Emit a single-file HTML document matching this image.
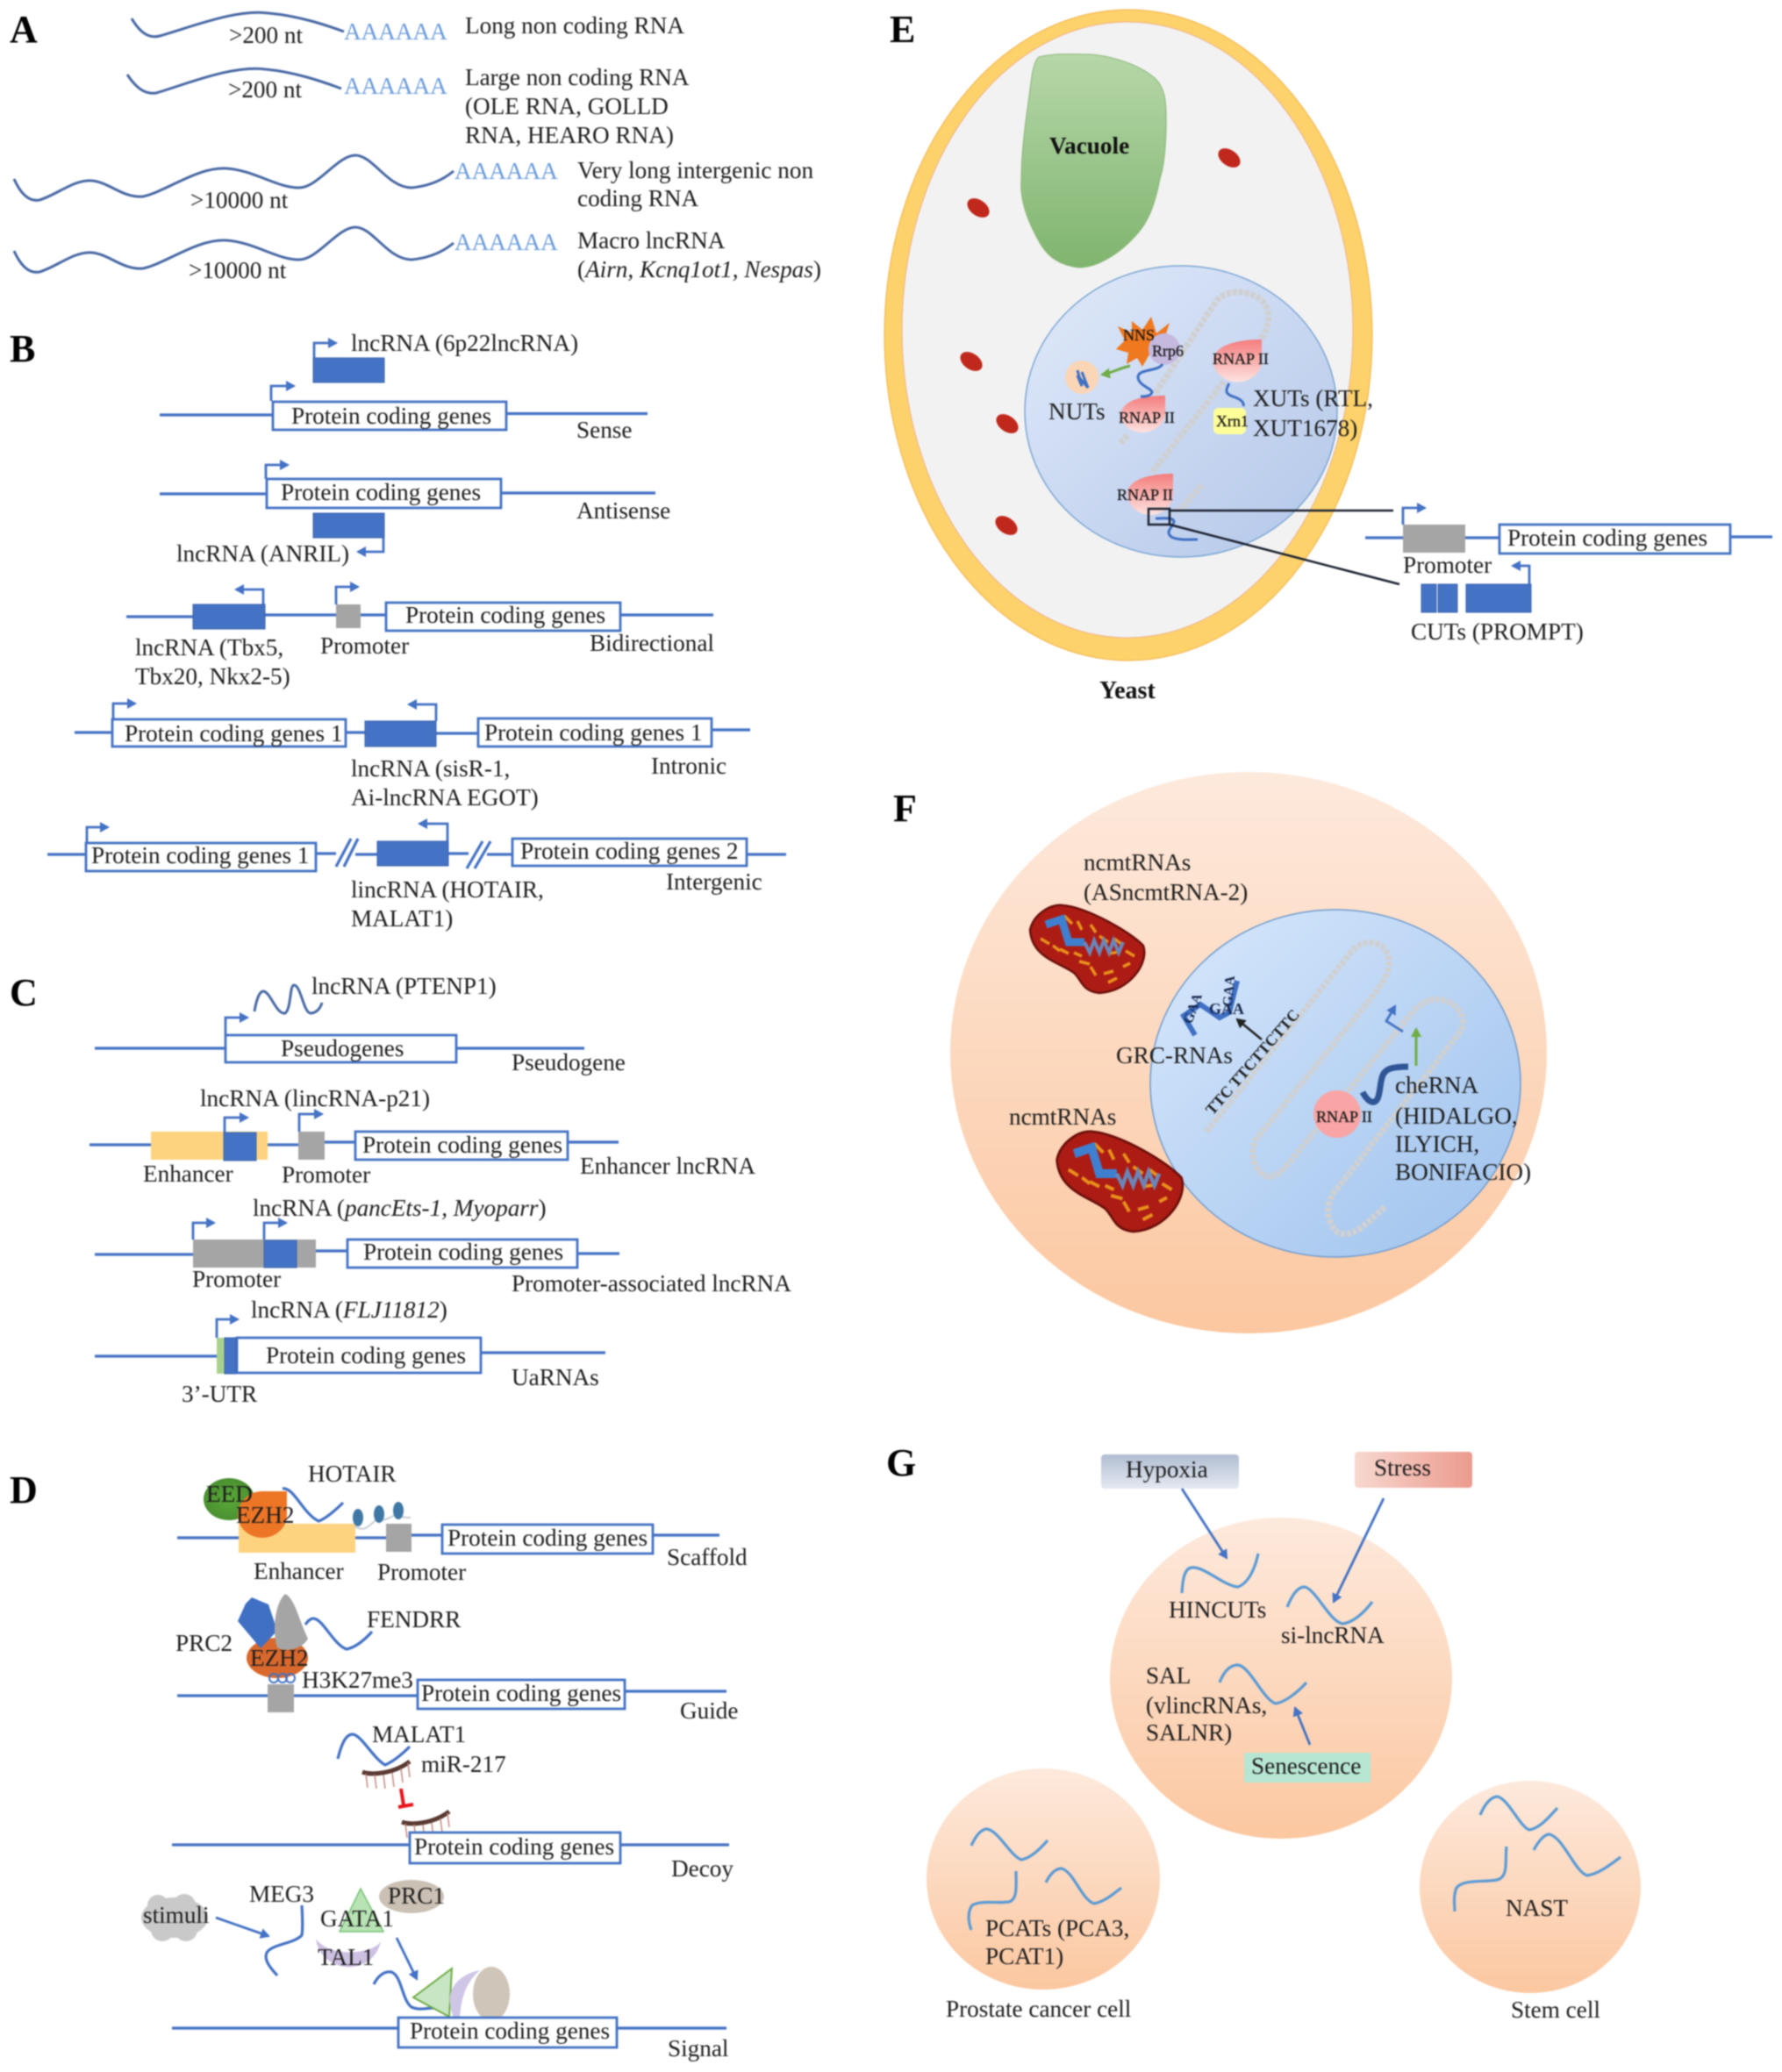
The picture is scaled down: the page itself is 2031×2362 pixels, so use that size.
<!DOCTYPE html>
<html><head><meta charset="utf-8"><title>lncRNA classification</title>
<style>
html,body{margin:0;padding:0;background:#fff}
svg{display:block;filter:blur(.7px)}
text{font-family:"Liberation Serif",serif;font-size:27.2px;fill:#1e1e1e}
.b{fill:none;stroke:#4472c4;stroke-width:3.2}
.w{fill:none;stroke:#4a6aa5;stroke-width:3}
.g{fill:none;stroke:#5b9bd5;stroke-width:3.2}
.a{fill:none;stroke:#4472c4;stroke-width:2.8;marker-end:url(#ah)}
.box{fill:#fff;stroke:#4472c4;stroke-width:2.8}
.blue{fill:#4472c4;stroke:#3a64ad;stroke-width:1}
.gray{fill:#a5a5a5}
.L{font-size:44px;font-weight:bold;fill:#000}
.pa{fill:#6a9bdc;font-size:27.2px}
.s{font-size:18px;fill:#1a1a1a;stroke:#1a1a1a;stroke-width:.3}
.dna{fill:none;stroke:#d0d0d0;stroke-width:7;stroke-dasharray:5 2}
</style></head>
<body>
<svg xmlns="http://www.w3.org/2000/svg" width="2031" height="2362" viewBox="0 0 2031 2362">
<defs>
<marker id="ah" markerUnits="userSpaceOnUse" markerWidth="14" markerHeight="14" refX="9" refY="6" orient="auto"><path d="M0 0L11 6L0 12z" fill="#4472c4"/></marker>
<marker id="ag" markerUnits="userSpaceOnUse" markerWidth="14" markerHeight="14" refX="9" refY="6" orient="auto"><path d="M0 0L11 6L0 12z" fill="#70ad47"/></marker>
<marker id="ak" markerUnits="userSpaceOnUse" markerWidth="14" markerHeight="14" refX="9" refY="6" orient="auto"><path d="M0 0L11 6L0 12z" fill="#222"/></marker>
<linearGradient id="cell" x1="0" y1="0" x2="0" y2="1"><stop offset="0" stop-color="#fde9dc"/><stop offset="1" stop-color="#fbc7a0"/></linearGradient>
<linearGradient id="nuc" x1="0" y1="0" x2="1" y2="1"><stop offset="0" stop-color="#dfe9fa"/><stop offset="1" stop-color="#aec3e8"/></linearGradient>
<linearGradient id="nuc2" x1="0" y1="0" x2="1" y2="1"><stop offset="0" stop-color="#d8e8fc"/><stop offset="1" stop-color="#9dc1ec"/></linearGradient>
<linearGradient id="vac" x1="0" y1="0" x2="0" y2="1"><stop offset="0" stop-color="#b6d7a8"/><stop offset="1" stop-color="#7fb46e"/></linearGradient>
<linearGradient id="pol" x1="0" y1="0" x2="0" y2="1"><stop offset="0" stop-color="#f47c7c"/><stop offset="1" stop-color="#fde3e0"/></linearGradient>
<linearGradient id="hyp" x1="0" y1="0" x2="0" y2="1"><stop offset="0" stop-color="#b0bdd2"/><stop offset="1" stop-color="#e4e9f1"/></linearGradient>
<linearGradient id="str" x1="0" y1="0" x2="1" y2="0"><stop offset="0" stop-color="#f7d8cf"/><stop offset="1" stop-color="#ec9a8e"/></linearGradient>
<radialGradient id="eed"><stop offset="0" stop-color="#5aa838"/><stop offset="1" stop-color="#4a9030"/></radialGradient>
<g id="mito">
<path d="M-64,-22 C-60,-40 -40,-52 -27,-50 C0,-48 50,-20 65,-4 C72,15 50,48 15,50 C-5,48 -5,35 -14,27 C-30,15 -62,10 -64,-22Z" fill="#ad1c14" stroke="#6d100c" stroke-width="2.500"/>
<g stroke="#e8901c" stroke-width="3.500" fill="none">
<path d="M-52,-12l10,6M-38,-4l8,6M-25,-38l9,9M-10,-32l5,10M5,-28l6,9M-30,0l10,5M-14,4l9,4M-8,14l12,3M5,20l6,10M20,28l11,-3M25,5l14,-2M45,2l10,6M15,-15l10,7M32,-12l8,6M25,38l10,-5M42,20l8,-4"/>
</g>
<path d="M-46,-28 L-28,-34 L-20,-8 L-2,-8" fill="none" stroke="#3f7fd0" stroke-width="9"/>
<path d="M-2,-8 l6,12 l5,-14 l6,14 l5,-14 l6,14 l5,-14 l6,14 l5,-12" fill="none" stroke="#6a86b8" stroke-width="4"/>
</g>
<g id="mir">
<path d="M0,0 C10,4 36,2 54,-12" fill="none" stroke="#5a3a32" stroke-width="5"/>
<path d="M4,2l2,16M14,3l2,16M24,3l2,16M34,1l2,16M44,-4l2,16M52,-10l2,16" stroke="#c58a80" stroke-width="1.500"/>
</g>
</defs>
<rect width="2031" height="2362" fill="#fff"/>

<!-- PANEL A -->
<text class="L" x="11" y="48">A</text>
<path class="w" d="M150 21C160 38 170 44 182 41C220 30 270 10 306 15C340 18 370 28 392 36"/>
<text x="261" y="49">&gt;200 nt</text><text class="pa" x="392" y="45">AAAAAA</text>
<text x="530" y="38">Long non coding RNA</text>
<path class="w" d="M145 85C155 100 165 108 178 106C215 95 265 74 303 79C335 82 365 92 389 101"/>
<text x="260" y="111">&gt;200 nt</text><text class="pa" x="392" y="107">AAAAAA</text>
<text x="530" y="97">Large non coding RNA</text><text x="530" y="130">(OLE RNA, GOLLD</text><text x="530" y="163">RNA, HEARO RNA)</text>
<path class="w" d="M16 204C24 222 34 230 45 228C65 222 85 204 105 206C125 208 140 226 163 224C190 218 225 190 258 192C290 194 315 214 341 214C362 214 385 177 405 177C425 177 442 214 469 214C490 212 505 205 517 195"/>
<text x="217" y="237">&gt;10000 nt</text><text class="pa" x="518" y="204">AAAAAA</text>
<text x="658" y="203">Very long intergenic non</text><text x="658" y="235">coding RNA</text>
<path class="w" transform="translate(0,82)" d="M16 204C24 222 34 230 45 228C65 222 85 204 105 206C125 208 140 226 163 224C190 218 225 190 258 192C290 194 315 214 341 214C362 214 385 177 405 177C425 177 442 214 469 214C490 212 505 205 517 195"/>
<text x="215" y="317">&gt;10000 nt</text><text class="pa" x="518" y="285">AAAAAA</text>
<text x="658" y="283">Macro lncRNA</text><text x="658" y="316">(<tspan font-style="italic">Airn, Kcnq1ot1, Nespas</tspan>)</text>

<!-- PANEL B -->
<text class="L" x="11" y="412">B</text>
<text x="400" y="400">lncRNA (6p22lncRNA)</text>
<path class="a" d="M358 408V391H383"/><rect class="blue" x="357" y="408" width="81" height="28"/>
<path class="a" d="M309 457V440H335"/>
<path class="b" d="M182 473H311M577 471.500H738"/><rect class="box" x="311" y="458" width="266" height="32"/>
<text x="332" y="483">Protein coding genes</text><text x="657" y="499">Sense</text>

<path class="a" d="M303 546V530H328"/>
<path class="b" d="M182 563H304M571 562H747"/><rect class="box" x="304" y="546" width="267" height="33"/>
<text x="320" y="570">Protein coding genes</text><text x="657" y="591">Antisense</text>
<rect class="blue" x="357" y="585" width="81" height="28"/><path class="a" d="M437 613V629H408"/>
<text x="201" y="640">lncRNA (ANRIL)</text>

<path class="a" d="M300 689V672H269"/>
<path class="b" d="M144 703H220M302 701H383M411 701H440M707 701H813"/>
<rect class="blue" x="220" y="689" width="82" height="28"/><rect class="gray" x="383" y="689" width="28" height="27"/>
<path class="a" d="M383 689V669H408"/>
<rect class="box" x="440" y="687" width="267" height="32"/>
<text x="462" y="710">Protein coding genes</text>
<text x="154" y="747">lncRNA (Tbx5,</text><text x="154" y="780">Tbx20, Nkx2-5)</text>
<text x="365" y="745">Promoter</text><text x="672" y="742">Bidirectional</text>

<path class="a" d="M129 819V802H154"/>
<path class="b" d="M85 835H128M394 835H416M497 836H545M811 832H855"/>
<rect class="box" x="128" y="820" width="266" height="31"/>
<rect class="blue" x="416" y="822" width="81" height="29"/>
<path class="a" d="M497 822V803H466"/>
<rect class="box" x="545" y="819" width="266" height="32"/>
<text x="142" y="845">Protein coding genes 1</text><text x="552" y="844">Protein coding genes 1</text>
<text x="400" y="885">lncRNA (sisR-1,</text><text x="400" y="918">Ai-lncRNA EGOT)</text><text x="742" y="882">Intronic</text>

<path class="a" d="M99 960V943H123"/>
<path class="b" d="M54 974H98M360 973H383M405 974H430M511 973H534M555 974H584M851 974H896"/>
<path class="b" d="M383 988L400 956M392 988L408 956M532 990L550 959M541 990L559 959"/>
<rect class="box" x="98" y="961" width="262" height="32"/>
<rect class="blue" x="430" y="959" width="81" height="28"/>
<path class="a" d="M510 959V939H478"/>
<rect class="box" x="584" y="956" width="267" height="31"/>
<text x="104" y="984">Protein coding genes 1</text><text x="593" y="979">Protein coding genes 2</text>
<text x="400" y="1023">lincRNA (HOTAIR,</text><text x="400" y="1056">MALAT1)</text><text x="759" y="1014">Intergenic</text>

<!-- PANEL C -->
<text class="L" x="11" y="1146">C</text>
<path class="w" d="M290 1153C293 1135 297 1130 300 1130C308 1130 315 1157 325 1155C332 1150 330 1123 335 1123C343 1123 346 1155 354 1155C360 1155 365 1150 367 1143"/>
<text x="355" y="1133">lncRNA (PTENP1)</text>
<path class="a" d="M257 1180V1160H282"/>
<path class="b" d="M108 1195H257M520 1195H666"/><rect class="box" x="257" y="1180" width="263" height="31"/>
<text x="320" y="1204">Pseudogenes</text><text x="583" y="1220">Pseudogene</text>

<text x="228" y="1261">lncRNA (lincRNA-p21)</text>
<path class="b" d="M102 1305H172M305 1305H340M370 1302H405M647 1302H705"/>
<rect x="172" y="1290" width="133" height="32" fill="#fdd37f"/>
<rect class="blue" x="255" y="1291" width="37" height="32"/>
<path class="a" d="M256 1291V1274H282"/>
<rect class="gray" x="340" y="1290" width="30" height="32"/>
<path class="a" d="M341 1290V1270H367"/>
<rect class="box" x="405" y="1290" width="242" height="32"/>
<text x="413" y="1314">Protein coding genes</text>
<text x="163" y="1347">Enhancer</text><text x="321" y="1348">Promoter</text><text x="661" y="1338">Enhancer lncRNA</text>

<text x="288" y="1386">lncRNA (<tspan font-style="italic">pancEts-1, Myoparr</tspan>)</text>
<path class="b" d="M108 1430H220M360 1426H396M658 1429H706"/>
<rect class="gray" x="220" y="1413" width="140" height="32"/>
<rect class="blue" x="301" y="1414" width="37" height="31"/>
<path class="a" d="M220 1413V1394H244"/><path class="a" d="M301 1413V1394H326"/>
<rect class="box" x="396" y="1413" width="262" height="32"/>
<text x="414" y="1436">Protein coding genes</text>
<text x="219" y="1467">Promoter</text><text x="583" y="1472">Promoter-associated lncRNA</text>

<text x="286" y="1502">lncRNA (<tspan font-style="italic">FLJ11812</tspan>)</text>
<path class="b" d="M108 1546H247M548 1542H690"/>
<path class="a" d="M247 1525V1504H271"/>
<rect class="box" x="270" y="1525" width="278" height="40"/>
<rect x="247" y="1525" width="9" height="41" fill="#a9d18e"/>
<rect class="blue" x="256" y="1525" width="13" height="41"/>
<text x="303" y="1554">Protein coding genes</text>
<text x="583" y="1579">UaRNAs</text><text x="207" y="1598">3’-UTR</text>

<!-- PANEL D -->
<text class="L" x="11" y="1713">D</text>
<text x="351" y="1689">HOTAIR</text>
<path class="b" d="M202 1753H272M405 1753H440M469 1750H504M744 1750H820"/>
<rect x="272" y="1737" width="133" height="33" fill="#fdd37f"/>
<ellipse cx="261" cy="1709" rx="29" ry="24" fill="url(#eed)"/>
<path d="M299 1700H327V1727A28 26 0 1 1 271 1727A28 27 0 0 1 299 1700Z" fill="#ed7526"/>
<text x="235" y="1712">EED</text><text x="269" y="1736">EZH2</text>
<path class="b" d="M322 1697C335 1695 345 1725 363 1734C370 1732 382 1722 391 1713"/>
<path d="M404 1740C415 1746 418 1742 428 1733C438 1734 445 1730 452 1726C458 1730 462 1730 468 1730" fill="none" stroke="#c9cdd2" stroke-width="2"/>
<ellipse cx="408" cy="1730" rx="6" ry="10" fill="#3f78a5"/><ellipse cx="432" cy="1726" rx="6" ry="10" fill="#3f78a5"/><ellipse cx="454" cy="1722" rx="6" ry="10" fill="#3f78a5"/>
<rect class="gray" x="440" y="1737" width="29" height="32"/>
<rect class="box" x="504" y="1738" width="240" height="33"/>
<text x="510" y="1762">Protein coding genes</text><text x="760" y="1784">Scaffold</text>
<text x="289" y="1800">Enhancer</text><text x="430" y="1801">Promoter</text>

<ellipse cx="316" cy="1890" rx="35" ry="23" fill="#d9682c"/>
<path d="M287 1821L306 1829L316 1859L297 1879L271 1848L280 1828Z" fill="#3f70c4"/>
<path d="M325 1817C336 1822 340 1845 351 1868C345 1880 325 1884 316 1878C310 1860 313 1828 325 1817Z" fill="#a5a5a5"/>
<text x="285" y="1899">EZH2</text>
<circle cx="312" cy="1913" r="5" fill="none" stroke="#4472c4" stroke-width="2"/><circle cx="322" cy="1913" r="5" fill="none" stroke="#4472c4" stroke-width="2"/><circle cx="331" cy="1913" r="5" fill="none" stroke="#4472c4" stroke-width="2"/>
<path class="b" d="M202 1933H476M712 1928H828"/>
<rect class="gray" x="305" y="1920" width="30" height="32"/>
<rect class="box" x="476" y="1915" width="236" height="33"/>
<text x="480" y="1939">Protein coding genes</text>
<text x="200" y="1882">PRC2</text><text x="418" y="1855">FENDRR</text>
<path class="b" d="M348 1852C352 1846 355 1845 357 1845C368 1845 380 1875 395 1880C405 1878 415 1870 424 1860"/>
<text x="344" y="1924">H3K27me3</text><text x="775" y="1959">Guide</text>

<text x="424" y="1986">MALAT1</text>
<path class="b" d="M385 2005C390 1985 395 1977 402 1977C412 1978 425 2004 439 2012C448 2008 458 2000 467 1991"/>
<text x="480" y="2020">miR-217</text>
<use href="#mir" x="413" y="2020"/>
<path d="M457 2039L460 2058M454 2060L471 2057" stroke="#e8141c" stroke-width="4" fill="none"/>
<use href="#mir" transform="translate(458,2077)"/>
<path class="b" d="M196 2103H467M707 2103H831"/>
<rect class="box" x="467" y="2089" width="240" height="35"/>
<text x="472" y="2114">Protein coding genes</text><text x="765" y="2139">Decoy</text>

<g fill="#c9c9c9"><ellipse cx="199" cy="2186" rx="38" ry="23"/><circle cx="180" cy="2172" r="12"/><circle cx="210" cy="2172" r="13"/><circle cx="185" cy="2200" r="13"/><circle cx="212" cy="2200" r="13"/></g>
<text x="163" y="2192">stimuli</text>
<path class="a" d="M246 2186L306 2207"/>
<text x="284" y="2168">MEG3</text>
<path class="b" d="M344 2172C345 2190 345 2200 344 2206C335 2216 310 2216 304 2226C300 2235 310 2245 316 2252"/>
<ellipse cx="469" cy="2162" rx="37" ry="19" fill="#cbc0b4"/>
<path d="M411 2153L387 2202H437Z" fill="#b8e3b4" stroke="#76c276" stroke-width="1.500"/>
<text x="365" y="2196">GATA1</text><text x="442" y="2170">PRC1</text>
<path d="M360 2210C365 2250 425 2255 434 2213C425 2228 375 2232 360 2210Z" fill="#cdc1e2"/>
<text x="362" y="2240">TAL1</text>
<path class="a" d="M452 2209L475 2256"/>
<path class="b" d="M426 2262C432 2250 440 2247 446 2248C458 2252 458 2280 469 2288C478 2292 486 2289 494 2289"/>
<path d="M515 2244L471 2277L512 2299Z" fill="#c8e6c3" stroke="#70ad47" stroke-width="2"/>
<path d="M547 2246C525 2250 510 2265 513 2285C515 2300 520 2305 523 2311C525 2290 525 2265 547 2246Z" fill="#cfc6e6"/>
<ellipse cx="560" cy="2273" rx="21" ry="31" fill="#cfc5b8"/>
<path class="b" d="M196 2312H454M703 2312H828"/>
<rect class="box" x="454" y="2300" width="249" height="34"/>
<text x="467" y="2324">Protein coding genes</text><text x="761" y="2344">Signal</text>

<!-- PANEL E -->
<text class="L" x="1014" y="48">E</text>
<ellipse cx="1286" cy="382" rx="278" ry="371" fill="#fdd26a" stroke="#f2b04a" stroke-width="1"/>
<ellipse cx="1285" cy="376" rx="257" ry="351" fill="#f2f2f2" stroke="#efb08a" stroke-width="1"/>
<path d="M1184 65C1205 60 1225 62 1243 62C1270 64 1300 75 1316 89C1328 100 1330 115 1329 150C1328 180 1325 195 1322 204C1316 235 1308 255 1293 270C1275 290 1250 305 1230 305C1210 303 1195 295 1184 275C1170 250 1162 225 1164 204C1164 170 1170 130 1174 102C1176 85 1178 70 1184 65Z" fill="url(#vac)" stroke="#8cb878" stroke-width="1"/>
<text x="1196" y="175" style="font-weight:bold;fill:#111">Vacuole</text>
<g fill="#c0281c"><ellipse cx="1401" cy="180" rx="14" ry="9" transform="rotate(35 1401 180)"/><ellipse cx="1115" cy="237" rx="14" ry="9" transform="rotate(35 1115 237)"/><ellipse cx="1107" cy="412" rx="14" ry="9" transform="rotate(35 1107 412)"/><ellipse cx="1148" cy="483" rx="14" ry="9" transform="rotate(35 1148 483)"/><ellipse cx="1147" cy="599" rx="14" ry="9" transform="rotate(35 1147 599)"/></g>
<ellipse cx="1346" cy="469" rx="178" ry="166" fill="url(#nuc)" fill-opacity=".93" stroke="#7da7d4" stroke-width="1.500"/>
<path class="dna" d="M1317 448L1385 345C1395 330 1420 330 1435 340C1450 352 1448 370 1437 387"/>
<path class="dna" d="M1395 435L1313 538"/><path class="dna" d="M1277 505L1287 495"/><path class="dna" d="M1370 553L1343 583"/>
<path d="M1325 392 L1333 368 L1318 380 L1312 361 L1302 376 L1290 366 L1290 379 L1274 372 L1282 388 L1272 398 L1286 402 L1284 415 L1296 408 L1302 418 L1310 404 L1322 406 L1316 396Z" fill="#f0781f"/>
<circle cx="1327" cy="398" r="18" fill="#c6b9e0"/>
<text class="s" x="1280" y="388">NNS</text><text class="s" x="1313" y="406">Rrp6</text>
<circle cx="1233" cy="430" r="19" fill="#fbd6b6"/>
<path d="M1228 422L1233 440L1228 428L1240 442L1233 424" fill="none" stroke="#3f70c4" stroke-width="3"/>
<path d="M1288 417C1275 420 1268 425 1256 427" fill="none" stroke="#70ad47" stroke-width="3" marker-end="url(#ag)"/>
<text x="1195" y="478">NUTs</text>
<path d="M1328 451C1305 451 1277 455 1277 475A26 24 0 0 0 1328 472Z" fill="url(#pol)"/>
<path d="M1438 387C1415 387 1383 392 1383 411A27 24 0 0 0 1438 411Z" fill="url(#pol)"/>
<path d="M1337 540C1315 540 1285 545 1285 563A26 24 0 0 0 1337 563Z" fill="url(#pol)"/>
<text class="s" x="1275" y="482">RNAP II</text><text class="s" x="1382" y="415">RNAP II</text><text class="s" x="1273" y="570">RNAP II</text>
<path d="M1325 415C1320 424 1297 420 1297 430C1298 440 1312 442 1313 447C1312 452 1304 452 1300 452" fill="none" stroke="#3f70c4" stroke-width="3"/>
<rect x="1383" y="465" width="37" height="30" rx="6" fill="#ffff99"/>
<text class="s" x="1386" y="486">Xrn1</text>
<path d="M1401 437C1395 447 1398 450 1408 453C1416 456 1418 460 1417 463" fill="none" stroke="#3f70c4" stroke-width="3"/>
<text x="1428" y="463">XUTs (RTL,</text><text x="1428" y="497">XUT1678)</text>
<path d="M1317 591C1325 591 1338 589 1338 595C1335 603 1328 606 1335 612C1342 616 1355 615 1365 615" fill="none" stroke="#3f70c4" stroke-width="3"/>
<rect x="1309" y="580" width="24" height="18" fill="none" stroke="#1c2230" stroke-width="2.500"/>
<path d="M1333 582H1588M1333 598L1595 666" stroke="#1c2230" stroke-width="2.500" fill="none"/>
<path class="b" d="M1556 613H1599M1670 613H1709M1972 612H2020"/>
<rect class="gray" x="1599" y="598" width="71" height="32"/>
<path class="a" d="M1599 598V579H1624"/>
<rect class="box" x="1709" y="598" width="263" height="33"/>
<text x="1718" y="622">Protein coding genes</text><text x="1599" y="653">Promoter</text>
<rect class="blue" x="1620" y="666" width="17" height="32"/><rect class="blue" x="1639" y="666" width="22" height="32"/><rect class="blue" x="1671" y="666" width="74" height="32"/>
<path class="a" d="M1743 666V645H1724"/>
<text x="1608" y="729">CUTs (PROMPT)</text>
<text x="1253" y="796" style="font-weight:bold;font-size:28px;fill:#111">Yeast</text>

<!-- PANEL F -->
<text class="L" x="1018" y="936">F</text>
<ellipse cx="1423" cy="1200" rx="340" ry="320" fill="url(#cell)"/>
<ellipse cx="1522" cy="1235" rx="211" ry="198" fill="url(#nuc2)" stroke="#6f9ccf" stroke-width="1.500"/>
<path class="dna" stroke-linejoin="round" d="M1375 1290L1540 1085C1550 1072 1572 1070 1580 1085C1588 1100 1580 1115 1565 1135L1432 1298C1424 1312 1428 1330 1440 1340C1452 1345 1462 1335 1472 1322L1605 1160C1615 1145 1630 1136 1645 1140C1662 1145 1672 1160 1665 1175L1520 1360C1510 1375 1512 1395 1525 1405C1540 1412 1555 1398 1579 1375"/>
<use href="#mito" transform="translate(1238,1082)"/>
<use href="#mito" transform="translate(1275,1347) scale(1.1,1.14)"/>
<path d="M1362 1180L1349 1158L1368 1145L1390 1160L1401 1154L1410 1118" fill="none" stroke="#3f70c4" stroke-width="6"/>
<text x="1378" y="1156" style="font-size:18px;font-weight:bold;fill:#1a2a50">GAA</text>
<text transform="translate(1358,1168) rotate(-70)" style="font-size:16px;font-weight:bold;fill:#1a2a50">GAA</text>
<text transform="translate(1404,1148) rotate(-85)" style="font-size:16px;font-weight:bold;fill:#1a2a50">GAA</text>
<path d="M1438 1185L1410 1162" stroke="#222" stroke-width="2.500" marker-end="url(#ak)"/>
<text transform="translate(1382,1272) rotate(-49)" style="font-size:18px;font-weight:bold;fill:#222">TTC TTCTTCTTC</text>
<text x="1272" y="1212">GRC-RNAs</text>
<text x="1235" y="992">ncmtRNAs</text><text x="1235" y="1026">(ASncmtRNA-2)</text><text x="1150" y="1282">ncmtRNAs</text>
<circle cx="1524" cy="1270" r="27" fill="#f9a5a5"/>
<text class="s" x="1500" y="1279">RNAP II</text>
<path d="M1553 1245C1560 1258 1568 1260 1571 1250C1575 1235 1572 1222 1585 1218C1592 1216 1600 1216 1605 1216" fill="none" stroke="#2f5597" stroke-width="7"/>
<path d="M1614 1215V1173" stroke="#70ad47" stroke-width="3" fill="none" marker-end="url(#ag)"/>
<path class="a" d="M1599 1176L1580 1164L1590 1147"/>
<text x="1590" y="1246">cheRNA</text><text x="1590" y="1281">(HIDALGO,</text><text x="1590" y="1313">ILYICH,</text><text x="1590" y="1345">BONIFACIO)</text>

<!-- PANEL G -->
<text class="L" x="1010" y="1682">G</text>
<ellipse cx="1460" cy="1913" rx="195" ry="183" fill="url(#cell)"/>
<ellipse cx="1189" cy="2142" rx="133" ry="126" fill="url(#cell)"/>
<ellipse cx="1744" cy="2151" rx="126" ry="121" fill="url(#cell)"/>
<rect x="1255" y="1658" width="157" height="39" rx="4" fill="url(#hyp)"/><text x="1283" y="1684">Hypoxia</text>
<rect x="1544" y="1655" width="134" height="41" rx="4" fill="url(#str)"/><text x="1566" y="1682">Stress</text>
<path class="g" d="M1347 1816C1348 1800 1350 1788 1358 1787C1372 1785 1395 1808 1411 1809C1422 1805 1430 1790 1434 1771"/>
<path class="g" d="M1467 1832C1472 1820 1478 1809 1487 1809C1500 1812 1515 1848 1530 1851C1542 1850 1555 1838 1564 1826"/>
<path class="g" d="M1390 1918C1395 1905 1402 1898 1411 1898C1425 1900 1440 1938 1454 1942C1465 1940 1478 1930 1489 1918"/>
<path class="a" d="M1347 1697L1398 1776"/><path class="a" d="M1577 1708L1520 1826"/><path class="a" d="M1493 1989L1476 1947"/>
<text x="1332" y="1844">HINCUTs</text><text x="1460" y="1873">si-lncRNA</text>
<text x="1306" y="1919">SAL</text><text x="1306" y="1953">(vlincRNAs,</text><text x="1306" y="1984">SALNR)</text>
<rect x="1418" y="1998" width="144" height="34" fill="#b7e6d2"/><text x="1426" y="2022">Senescence</text>
<path class="g" d="M1107 2104C1112 2093 1118 2085 1125 2085C1138 2087 1152 2116 1164 2120C1175 2118 1185 2108 1194 2098"/>
<path class="g" d="M1158 2133C1158 2150 1160 2165 1150 2168C1135 2170 1118 2166 1108 2172C1102 2180 1104 2192 1107 2200"/>
<path class="g" d="M1192 2146C1197 2136 1203 2130 1210 2130C1224 2134 1233 2166 1247 2170C1258 2168 1268 2160 1278 2152"/>
<text x="1123" y="2207">PCATs (PCA3,</text><text x="1123" y="2239">PCAT1)</text>
<path class="g" d="M1687 2069C1692 2057 1699 2048 1707 2048C1720 2052 1732 2082 1743 2086C1755 2084 1765 2072 1775 2061"/>
<path class="g" d="M1748 2109C1754 2098 1760 2091 1766 2091C1782 2095 1795 2134 1809 2138C1822 2136 1835 2126 1847 2117"/>
<path class="g" d="M1717 2105C1715 2120 1720 2140 1706 2143C1690 2146 1668 2142 1660 2152C1656 2162 1658 2172 1658 2179"/>
<text x="1716" y="2184">NAST</text>
<text x="1078" y="2299">Prostate cancer cell</text><text x="1722" y="2300">Stem cell</text>
</svg>
</body></html>
